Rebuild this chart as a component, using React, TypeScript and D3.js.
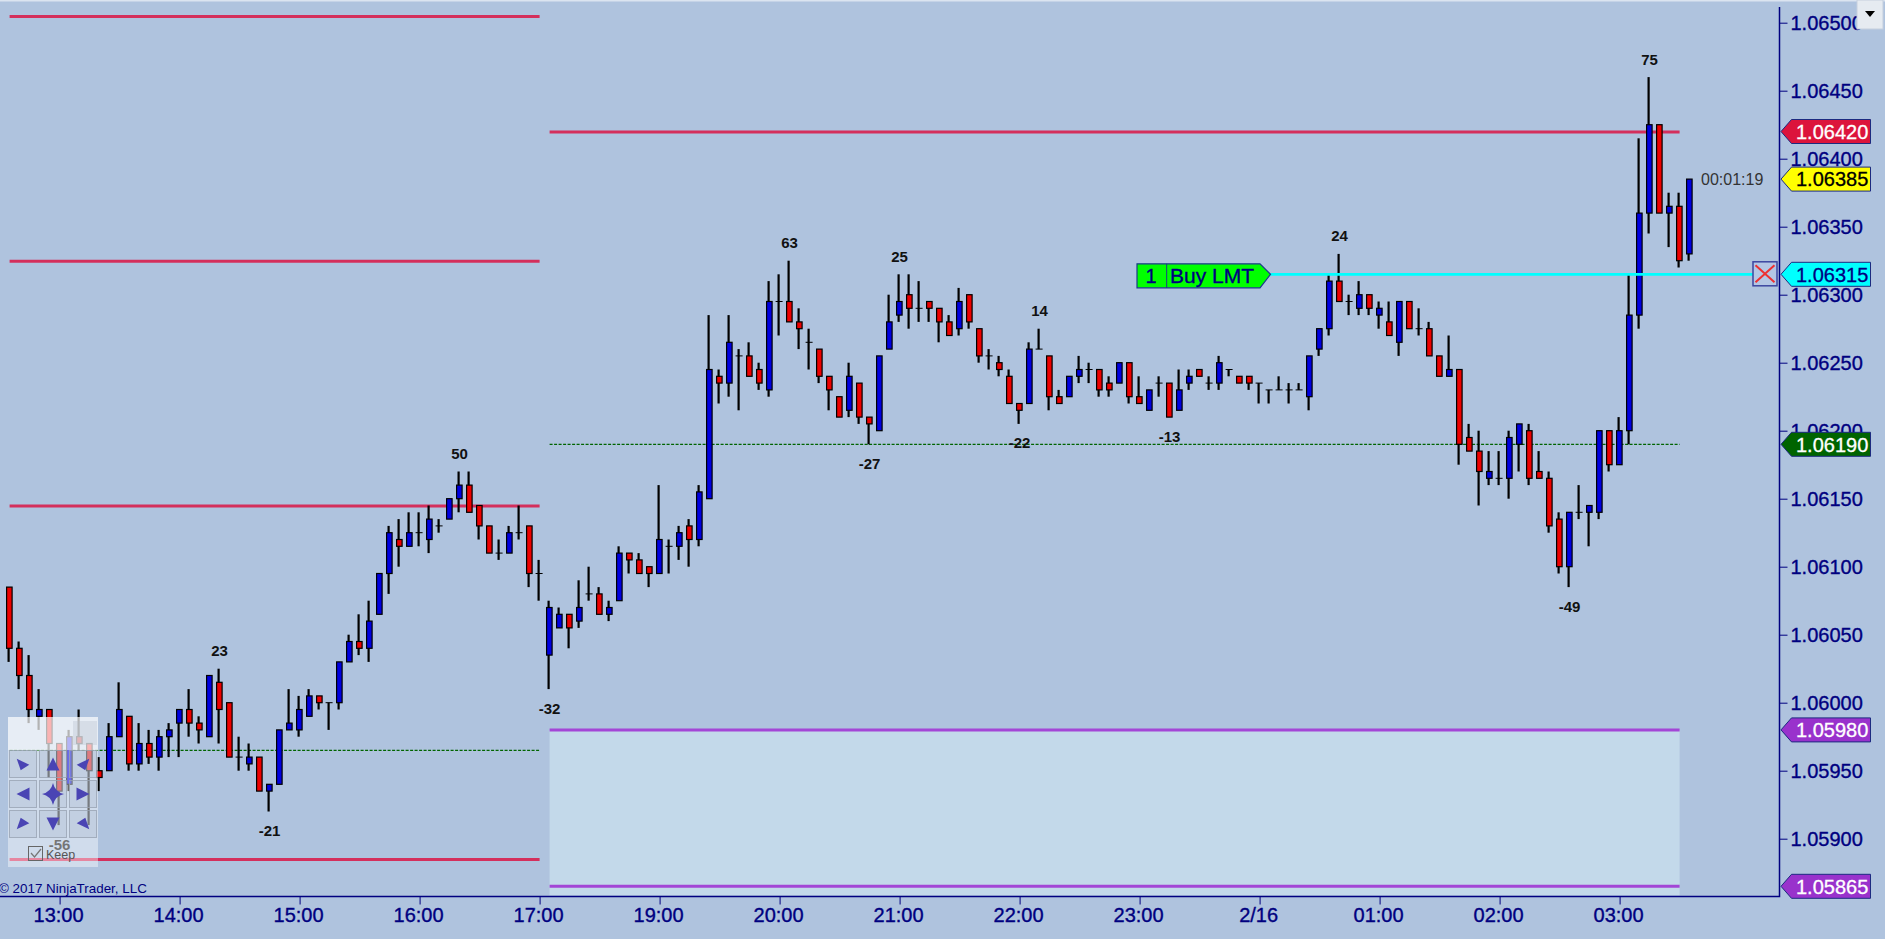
import React, { useEffect, useRef } from 'react';
import * as d3 from 'd3';

// 5 minute bars. Values are ticks (0.00005) below 1.06500
const TOP_PRICE = 1.065;
const TICK = 0.00005;

const opens = [
  83, 92, 96, 102, 101, 106, 112, 105, 106, 110, 110, 105, 102, 109, 106, 108, 105, 103, 101, 103,
  105, 97, 100, 108, 109, 108, 113, 112, 104, 104, 102, 99, 100, 100, 94, 91, 92, 87, 81, 76,
  77, 75, 76, 74, 73, 70, 68, 71, 74, 78, 78, 75, 74, 81, 93,
  89, 87, 88, 84, 84, 87, 85, 78, 79, 80, 81, 77, 77, 74, 76, 70, 52, 53, 49, 49,
  51, 54, 41, 41, 44, 47, 48, 52, 55, 57, 53, 58, 60, 48, 43, 40, 42, 41, 42, 44,
  45, 40, 45, 49, 50, 52, 56, 56, 48, 49, 55, 55, 52,
  51, 51, 53, 53, 50, 55, 57, 53, 53, 57, 53, 51, 53, 53, 51, 52, 52, 53, 54, 54,
  54, 54, 55, 48, 45, 38, 41, 42, 40, 43, 44, 47, 41, 45, 45, 49, 52, 51, 61, 63,
  67, 67, 67, 62, 60, 66, 67, 73, 80, 72, 72, 72, 60, 65, 60, 43, 28, 15, 28, 27, 34,
];
const closes = [
  92, 96, 101, 101, 106, 113, 105, 106, 110, 111, 105, 101, 109, 106, 108, 105, 104, 101, 103, 104,
  96, 101, 108, 108, 108, 113, 112, 104, 103, 101, 99, 100, 100, 94, 91, 92, 88, 81, 75, 77,
  75, 75, 73, 74, 70, 68, 72, 74, 78, 78, 75, 75, 81, 81, 86,
  87, 89, 86, 84, 87, 86, 78, 79, 81, 81, 76, 77, 75, 76, 69, 51, 53, 47, 49, 52,
  53, 41, 41, 44, 45, 47, 52, 54, 58, 52, 58, 59, 49, 44, 41, 42, 42, 42, 44, 46,
  41, 44, 49, 49, 51, 56, 57, 48, 48, 55, 56, 52, 51,
  51, 54, 54, 50, 55, 56, 54, 53, 58, 54, 52, 52, 53, 50, 51, 53, 53, 53, 54, 54,
  54, 54, 49, 45, 38, 41, 41, 40, 42, 42, 46, 41, 45, 45, 49, 52, 51, 62, 63, 66,
  66, 67, 61, 59, 67, 67, 74, 80, 72, 72, 71, 60, 65, 60, 43, 28, 15, 28, 27, 35, 23,
];
const highs = [
  83, 91, 93, 98, 101, 106, 104, 101, 106, 108, 103, 97, 102, 103, 104, 104, 103, 101, 98, 102,
  96, 95, 100, 105, 106, 108, 112, 104, 98, 99, 98, 99, 100, 94, 90, 87, 85, 81, 74, 73,
  72, 72, 71, 73, 70, 66, 66, 71, 74, 76, 74, 71, 74, 79, 85,
  86, 87, 82, 80, 83, 85, 77, 78, 78, 80, 68, 76, 74, 73, 68, 43, 51, 43, 48, 47,
  50, 38, 37, 35, 42, 45, 48, 52, 55, 50, 53, 58, 49, 40, 37, 37, 38, 41, 42, 43,
  39, 40, 45, 48, 49, 51, 56, 47, 45, 49, 54, 52, 49,
  50, 51, 52, 50, 50, 52, 54, 52, 53, 51, 51, 51, 52, 49, 51, 52, 52, 53, 54, 52,
  53, 53, 49, 45, 37, 34, 40, 38, 40, 41, 41, 41, 41, 42, 44, 49, 46, 51, 59, 60,
  63, 63, 60, 59, 59, 63, 66, 72, 72, 68, 71, 60, 60, 58, 37, 17, 8, 15, 25, 25, 23,
];
const lows = [
  94, 98, 103, 104, 111, 118, 113, 107, 118, 113, 110, 105, 110, 110, 109, 110, 108, 108, 105, 106,
  105, 106, 108, 110, 110, 113, 116, 112, 104, 105, 102, 101, 104, 101, 94, 93, 94, 87, 84, 80,
  77, 77, 78, 75, 73, 72, 72, 76, 78, 79, 78, 76, 83, 85, 98,
  89, 92, 89, 85, 87, 88, 85, 81, 81, 83, 81, 81, 79, 80, 77, 70, 56, 55, 57, 52,
  54, 55, 46, 44, 48, 51, 53, 57, 58, 58, 59, 62, 60, 48, 44, 45, 44, 44, 47, 46,
  46, 45, 50, 51, 52, 56, 59, 56, 48, 57, 56, 55, 53,
  53, 55, 55, 53, 56, 56, 57, 55, 58, 57, 54, 52, 54, 54, 52, 53, 54, 56, 56, 54,
  56, 54, 57, 49, 46, 41, 43, 43, 43, 45, 46, 49, 45, 46, 49, 52, 52, 65, 63, 71,
  68, 68, 70, 66, 68, 67, 75, 81, 83, 73, 77, 73, 66, 65, 62, 45, 31, 28, 33, 36, 35,
];

const timeTickBars = [5, 17, 29, 41, 53, 65, 77, 89, 101, 113, 125, 137, 149, 161];
const timeTickLabels = ['13:00', '14:00', '15:00', '16:00', '17:00', '19:00', '20:00', '21:00', '22:00', '23:00', '2/16', '01:00', '02:00', '03:00'];
const priceTicks = [1.065, 1.0645, 1.064, 1.0635, 1.063, 1.0625, 1.062, 1.0615, 1.061, 1.0605, 1.06, 1.0595, 1.059];

// swing labels: bar, text, above the high or below the low
const swingBars = [5, 21, 26, 45, 54, 78, 86, 89, 101, 103, 116, 133, 156, 164];
const swingTexts = ['-56', '23', '-21', '50', '-32', '63', '-27', '25', '-22', '14', '-13', '24', '-49', '75'];

// session levels [price, first bar, last bar]
const redLevels = [
  [1.06505, 0, 53], [1.06325, 0, 53], [1.06145, 0, 53], [1.05885, 0, 53], [1.0642, 54, 167],
];
const greenLevels = [[1.05965, 0, 53], [1.0619, 54, 167]];
const purpleLevels = [1.0598, 1.05865];

const tagPrices = [1.0642, 1.06385, 1.06315, 1.0619, 1.0598, 1.05865];
const tagFills = ['#dc143c', '#ffff00', '#00ffff', '#006400', '#9932cc', '#9932cc'];
const tagInks = ['#ffffff', '#000000', '#000080', '#ffffff', '#ffffff', '#ffffff'];

const orderPrice = 1.06315;

const App: React.FC = () => {
  const ref = useRef<SVGSVGElement | null>(null);
  const width = 1885;
  const height = 939;

  useEffect(() => {
    if (!ref.current) return;
    const svg = d3.select(ref.current);
    svg.selectAll('*').remove();

    const font = '"Liberation Sans", Arial, sans-serif';
    const navy = '#000080';
    const x = d3.scaleLinear().domain([0, 168]).range([9.6, 1689.6]);
    const y = d3.scaleLinear().domain([1.059, 1.065]).range([838.7, 22.7]);
    const price = (t: number) => TOP_PRICE - t * TICK;
    const axisX = 1779.5;
    const axisY = 896.5;

    svg.append('rect').attr('width', width).attr('height', height).attr('fill', '#afc3de');
    svg.append('rect').attr('width', width).attr('height', 1.5).attr('fill', '#dbe4f0');

    // target zone
    svg.append('rect')
      .attr('x', x(54)).attr('y', y(purpleLevels[0]))
      .attr('width', x(167) - x(54)).attr('height', axisY - 1 - y(purpleLevels[0]))
      .attr('fill', '#c3d9ea');

    svg.append('g').selectAll('line').data(redLevels).join('line')
      .attr('x1', d => x(d[1])).attr('x2', d => x(d[2]))
      .attr('y1', d => y(d[0]) + 0.5).attr('y2', d => y(d[0]) + 0.5)
      .attr('stroke', '#d42f5c').attr('stroke-width', 3);

    svg.append('g').selectAll('line').data(greenLevels).join('line')
      .attr('x1', d => x(d[1])).attr('x2', d => x(d[2]))
      .attr('y1', d => y(d[0])).attr('y2', d => y(d[0]))
      .attr('stroke', '#006400').attr('stroke-width', 1.2).attr('stroke-dasharray', '3,1.5');

    svg.append('g').selectAll('line').data(purpleLevels).join('line')
      .attr('x1', x(54)).attr('x2', x(167))
      .attr('y1', d => y(d)).attr('y2', d => y(d))
      .attr('stroke', '#a346d6').attr('stroke-width', 3);

    // candles
    const bars = opens.map((o, i) => ({ i, o, c: closes[i], h: highs[i], l: lows[i] }));
    const candle = svg.append('g').selectAll('g').data(bars).join('g');
    candle.append('line')
      .attr('x1', d => x(d.i) - 1).attr('x2', d => x(d.i) - 1)
      .attr('y1', d => y(price(d.h))).attr('y2', d => y(price(d.l)))
      .attr('stroke', '#000').attr('stroke-width', 2.2);
    candle.filter(d => d.o === d.c).append('line')
      .attr('x1', d => x(d.i) - 4).attr('x2', d => x(d.i) + 3)
      .attr('y1', d => y(price(d.o))).attr('y2', d => y(price(d.o)))
      .attr('stroke', '#000').attr('stroke-width', 1);
    candle.filter(d => d.o !== d.c).append('rect')
      .attr('x', d => x(d.i) - 3).attr('width', 5.5)
      .attr('y', d => y(price(Math.min(d.o, d.c))))
      .attr('height', d => Math.abs(y(price(d.o)) - y(price(d.c))))
      .attr('fill', d => (d.c < d.o ? '#0000e0' : '#ee0000'))
      .attr('stroke', '#000').attr('stroke-width', 1.2);

    // swing labels
    svg.append('g').selectAll('text').data(swingBars).join('text')
      .attr('x', d => x(d))
      .attr('y', (d, i) => (swingTexts[i].startsWith('-') ? y(price(lows[d])) + 19 : y(price(highs[d])) - 18))
      .attr('dy', '0.36em')
      .attr('text-anchor', 'middle')
      .attr('font-family', font).attr('font-size', 15).attr('font-weight', 'bold')
      .attr('fill', '#111')
      .text((d, i) => swingTexts[i]);

    // axes
    const priceAxis = d3.axisRight(y)
      .tickValues(priceTicks)
      .tickFormat(d3.format('.5f') as any)
      .tickSize(8)
      .tickPadding(3);
    const gy = svg.append('g').attr('transform', `translate(${axisX},0)`).call(priceAxis);
    gy.select('.domain').remove();
    gy.selectAll('line').attr('stroke', navy);
    gy.selectAll('text')
      .attr('fill', navy).attr('font-family', font).attr('font-size', 20)
      .attr('stroke', navy).attr('stroke-width', 0.35);

    const timeAxis = d3.axisBottom(x)
      .tickValues(timeTickBars)
      .tickFormat((d: any) => timeTickLabels[timeTickBars.indexOf(d)])
      .tickSize(8)
      .tickPadding(3);
    const gx = svg.append('g').attr('transform', `translate(0,${axisY})`).call(timeAxis);
    gx.select('.domain').remove();
    gx.selectAll('line').attr('stroke', navy);
    gx.selectAll('text')
      .attr('dx', -1.5)
      .attr('fill', navy).attr('font-family', font).attr('font-size', 20)
      .attr('stroke', navy).attr('stroke-width', 0.35);

    svg.append('path')
      .attr('d', `M0,${axisY}H${axisX}V7`)
      .attr('fill', 'none').attr('stroke', navy).attr('stroke-width', 1.5);

    svg.append('text')
      .attr('x', -1).attr('y', 888.5).attr('dy', '0.36em')
      .attr('font-family', font).attr('font-size', 13.4).attr('fill', navy)
      .text('© 2017 NinjaTrader, LLC');

    svg.append('text')
      .attr('x', 1701).attr('y', 179).attr('dy', '0.36em')
      .attr('font-family', font).attr('font-size', 16).attr('fill', '#333')
      .text('00:01:19');

    // order line, label and cancel box
    const oy = y(orderPrice);
    svg.append('line')
      .attr('x1', 1270).attr('x2', 1753).attr('y1', oy).attr('y2', oy)
      .attr('stroke', '#00ffff').attr('stroke-width', 2.8);
    svg.append('path')
      .attr('d', `M1137,${oy - 10.5}H1260L1270.5,${oy}L1260,${oy + 13.5}H1137Z`)
      .attr('fill', '#00ff00').attr('stroke', '#1c3a8a').attr('stroke-width', 1.2);
    svg.append('line')
      .attr('x1', 1166.7).attr('x2', 1166.7).attr('y1', oy - 10.5).attr('y2', oy + 13.5)
      .attr('stroke', '#1c3a8a').attr('stroke-width', 1);
    svg.append('text')
      .attr('x', 1151).attr('y', oy + 1.5).attr('dy', '0.36em').attr('text-anchor', 'middle')
      .attr('font-family', font).attr('font-size', 20).attr('fill', navy)
      .attr('stroke', navy).attr('stroke-width', 0.35).text('1');
    svg.append('text')
      .attr('x', 1170).attr('y', oy + 1.5).attr('dy', '0.36em')
      .attr('font-family', font).attr('font-size', 21).attr('fill', navy)
      .attr('stroke', navy).attr('stroke-width', 0.35).text('Buy LMT');
    svg.append('rect')
      .attr('x', 1753).attr('y', oy - 12.5).attr('width', 24).attr('height', 24)
      .attr('fill', '#b4c6e4').attr('stroke', '#3c46a0').attr('stroke-width', 1.5);
    svg.append('path')
      .attr('d', `M1755.5,${oy - 9}L1774.5,${oy + 8}M1774.5,${oy - 9}L1755.5,${oy + 8}`)
      .attr('stroke', '#ee3030').attr('stroke-width', 2);

    // price tags on the axis
    const tag = svg.append('g').selectAll('g').data(tagPrices).join('g')
      .attr('transform', d => `translate(0,${y(d)})`);
    tag.append('path')
      .attr('d', 'M1781,0L1791.5,-12H1870.5V12H1791.5Z')
      .attr('fill', (d, i) => tagFills[i])
      .attr('stroke', '#1c2a80').attr('stroke-width', 1);
    tag.append('text')
      .attr('x', 1796).attr('dy', '0.36em')
      .attr('font-family', font).attr('font-size', 20)
      .attr('fill', (d, i) => tagInks[i])
      .attr('stroke', (d, i) => tagInks[i]).attr('stroke-width', 0.3)
      .text(d => d3.format('.5f')(d));

    // drop down button, top right
    svg.append('rect')
      .attr('x', 1857).attr('y', 0).attr('width', 26).attr('height', 29)
      .attr('fill', '#e6ebf1').attr('stroke', '#c5cfdd');
    svg.append('path').attr('d', 'M1865,11H1875L1870,17Z').attr('fill', '#000');

    // chart trader nav panel on top of the candles
    const panel = svg.append('g');
    panel.append('rect').attr('x', 8).attr('y', 717).attr('width', 90).attr('height', 33)
      .attr('fill', '#fff').attr('fill-opacity', 0.7);
    panel.append('rect').attr('x', 8).attr('y', 750).attr('width', 90).attr('height', 117)
      .attr('fill', '#fff').attr('fill-opacity', 0.42);
    panel.append('rect').attr('x', 73).attr('y', 721).attr('width', 24).attr('height', 24)
      .attr('fill', '#afb8c8').attr('fill-opacity', 0.3);

    const cols = [9.5, 39.5, 69.5];
    const rows = [750.5, 780.5, 810.5];
    const ink = '#4a44b4';
    // icons: one shape per kind, mirrored into its corner of the 3x3 grid
    const diag = 'M-6.3,-5.3L6.3,0.7L-2.3,6.3Z';
    const arrow = 'M0,-6.5L6.5,6.5L-6.5,6.5Z';
    const star = 'M0,-11Q2,-2 11,0Q2,2 0,11Q-2,2 -11,0Q-2,-2 0,-11Z';
    const icons = [
      [[diag, 'scale(1,1)'], [arrow, ''], [diag, 'scale(-1,1)']],
      [[arrow, 'rotate(-90)'], [star, ''], [arrow, 'rotate(90)']],
      [[diag, 'scale(1,-1)'], [arrow, 'rotate(180)'], [diag, 'scale(-1,-1)']],
    ];
    rows.forEach((ry, r) => cols.forEach((cx, c) => {
      panel.append('rect').attr('x', cx).attr('y', ry).attr('width', 27).attr('height', 27)
        .attr('fill', '#98a6c0').attr('fill-opacity', 0.25)
        .attr('stroke', '#98a2b3').attr('stroke-opacity', 0.8);
      panel.append('path')
        .attr('d', icons[r][c][0])
        .attr('fill', ink)
        .attr('transform', `translate(${cx + 13.5},${ry + 13.5}) ${icons[r][c][1]}`);
    }));
    panel.append('rect').attr('x', 28.5).attr('y', 846.5).attr('width', 14).attr('height', 14)
      .attr('fill', 'none').attr('stroke', '#666');
    panel.append('path').attr('d', 'M31,853L34.5,857L41,849')
      .attr('fill', 'none').attr('stroke', '#777').attr('stroke-width', 1.2);
    panel.append('text')
      .attr('x', 46).attr('y', 854).attr('dy', '0.36em')
      .attr('font-family', font).attr('font-size', 12.5).attr('fill', '#555').text('Keep');
  }, []);

  return <svg ref={ref} width={width} height={height} style={{ position: 'absolute', left: 0, top: 0, display: 'block' }} />;
};

export default App;
